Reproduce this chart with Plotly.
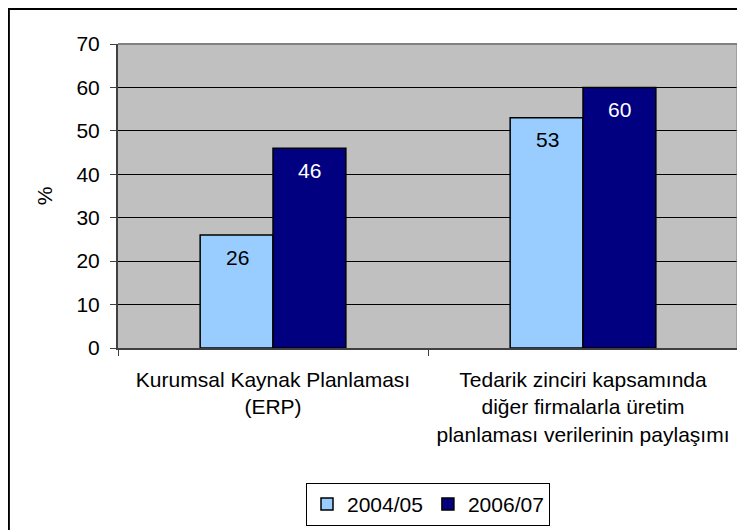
import plotly.graph_objs as go

FONT = "Liberation Sans, Arial, sans-serif"

categories = [
    "Kurumsal Kaynak Planlaması<br>(ERP)",
    "Tedarik zinciri kapsamında<br>diğer firmalarla üretim<br>planlaması verilerinin paylaşımı",
]
series_names = ["2004/05", "2006/07"]
values_2004 = [26, 53]
values_2006 = [46, 60]
y_ticks = [0, 10, 20, 30, 40, 50, 60, 70]

colors = ["#99CCFF", "#000080"]
label_colors = ["black", "white"]

gos = []
annotations = []
for idx, (name, vals) in enumerate(zip(series_names, [values_2004, values_2006])):
    bar_go = go.Bar(
        x=categories,
        y=vals,
        name=name,
        marker=dict(color=colors[idx], line=dict(color="black", width=1.5)),
    )
    gos.append(bar_go)
    for cat, v in zip(categories, vals):
        annotations.append(dict(
            x=cat,
            y=v,
            text=str(v),
            xshift=-36 if idx == 0 else 36,
            yshift=-22,
            yanchor="middle",
            showarrow=False,
            font=dict(family=FONT, size=21, color=label_colors[idx]),
        ))

# chart frame and plot area border (top/right)
shapes = [
    dict(type="rect", xref="paper", yref="paper", x0=-0.176, x1=1.2, y0=-1.0, y1=1.115,
         line=dict(color="black", width=2), layer="above"),
    dict(type="line", xref="paper", yref="paper", x0=0, x1=1, y0=1, y1=1,
         line=dict(color="#808080", width=2), layer="above"),
    dict(type="line", xref="paper", yref="paper", x0=1, x1=1, y0=0, y1=1,
         line=dict(color="#808080", width=3), layer="above"),
]

layout = dict(
    width=745,
    height=530,
    paper_bgcolor="white",
    plot_bgcolor="#C0C0C0",
    font=dict(family=FONT, size=21, color="black"),
    barmode="group",
    bargap=0.53,
    bargroupgap=0,
    showlegend=True,
    legend=dict(
        orientation="h",
        x=0.5,
        xanchor="center",
        y=-0.514,
        yanchor="middle",
        bordercolor="black",
        borderwidth=1,
        bgcolor="white",
        font=dict(size=21),
        itemwidth=30,
        traceorder="normal",
    ),
    xaxis=dict(
        type="category",
        showline=True,
        linecolor="#404040",
        linewidth=1.5,
        ticks="outside",
        tickson="boundaries",
        ticklen=6,
        tickcolor="#404040",
        ticklabelstandoff=12,
        showgrid=False,
        fixedrange=True,
    ),
    yaxis=dict(
        title=dict(text="%", standoff=18, font=dict(size=21)),
        range=[0, 70],
        tickvals=y_ticks,
        showline=True,
        linecolor="#404040",
        linewidth=2,
        ticks="outside",
        ticklen=6,
        tickcolor="#404040",
        ticklabelstandoff=6,
        showgrid=True,
        gridcolor="black",
        gridwidth=1,
        zeroline=False,
        fixedrange=True,
    ),
    annotations=annotations,
    shapes=shapes,
    margin=dict(l=110, r=15, t=36, b=190, autoexpand=False),
)

fig = go.Figure(data=gos, layout=layout)
fig.write_html("out.html")
